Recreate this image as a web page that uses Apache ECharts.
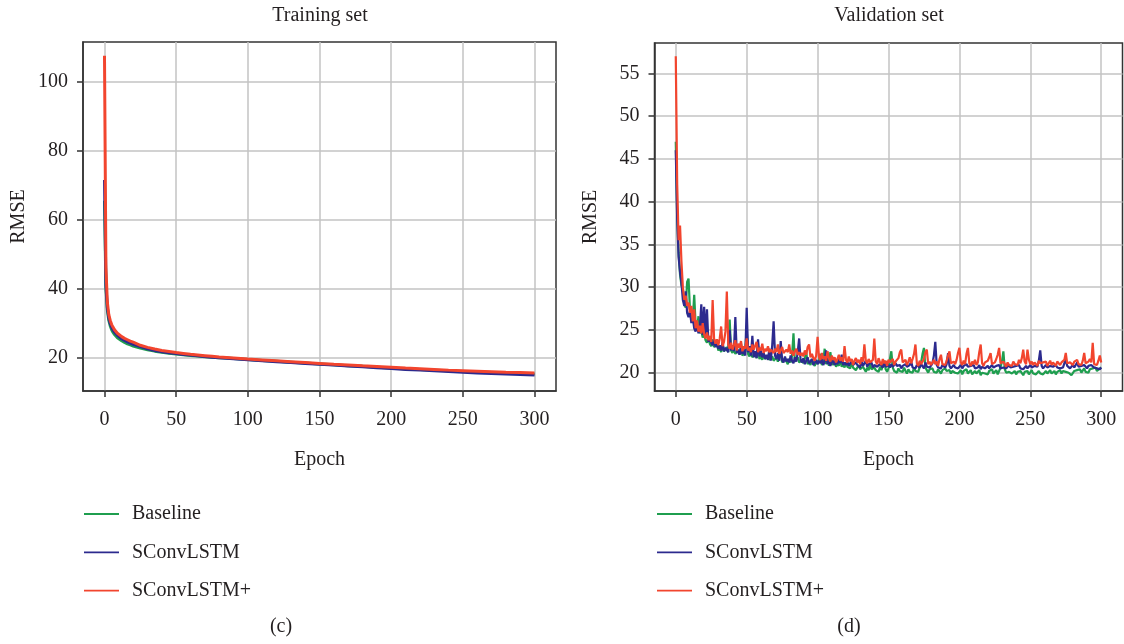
<!DOCTYPE html>
<html>
<head>
<meta charset="utf-8">
<title>RMSE per epoch</title>
<script src="https://cdn.jsdelivr.net/npm/echarts@6.0.0/dist/echarts.min.js"></script>
<style>
  html, body { margin: 0; padding: 0; background: #ffffff; }
  #chart { width: 1124px; height: 644px; }
</style>
</head>
<body>
<div id="chart"></div>
<script>
// ---- Series names ----
const seriesNames = ['Baseline', 'SConvLSTM', 'SConvLSTM+'];

// ---- Training set (RMSE per epoch, sampled) ----
const trainEpochs = [0,1,2,3,4,5,6,7,8,9,10,12,14,16,18,20,25,30,35,40,45,50,55,60,65,70,75,80,85,90,95,100,
  110,120,130,140,150,160,170,180,190,200,210,220,230,240,250,260,270,280,290,300];
const trainBaseline = [65.5,40,33.8,30.8,29.2,28.1,27.3,26.7,26.2,25.8,25.5,24.9,24.4,24.0,23.7,23.4,22.8,22.3,21.9,21.55,21.3,21.05,20.85,20.65,20.5,20.3,20.15,20.0,19.9,19.75,19.6,19.5,
  19.2,18.95,18.7,18.45,18.2,17.95,17.7,17.5,17.25,17.0,16.8,16.6,16.4,16.2,16.0,15.85,15.7,15.55,15.4,15.3];
const trainSConv = [71.5,41,34.5,31.5,29.9,28.8,28.0,27.4,26.9,26.5,26.1,25.5,25.0,24.6,24.2,23.9,23.2,22.6,22.1,21.75,21.45,21.2,20.95,20.75,20.55,20.35,20.15,20.0,19.85,19.7,19.55,19.4,
  19.1,18.85,18.6,18.35,18.1,17.85,17.6,17.35,17.1,16.85,16.6,16.4,16.2,16.0,15.8,15.6,15.45,15.3,15.15,15.0];
const trainSConvPlus = [107.5,46,36,32.5,30.8,29.6,28.8,28.1,27.6,27.1,26.7,26.1,25.6,25.2,24.8,24.5,23.6,23.0,22.5,22.1,21.8,21.5,21.25,21.0,20.8,20.6,20.4,20.2,20.05,19.9,19.75,19.6,
  19.35,19.1,18.85,18.6,18.35,18.1,17.9,17.65,17.45,17.25,17.0,16.8,16.6,16.4,16.25,16.1,15.95,15.8,15.7,15.6];

// ---- Validation set (RMSE at every epoch 0..300) ----
const valBaseline = [
  47.0,38.5,34.0,31.5,30.2,29.8,28.0,27.6,30.6,31.0,27.4,27.0,26.2,29.1,25.6,25.0,26.6,24.6,24.9,24.1,
  24.6,23.8,23.5,24.2,23.4,23.1,23.9,23.0,22.8,23.4,22.6,22.9,22.4,23.3,22.5,22.3,23.0,22.4,26.2,22.6,
  22.3,22.8,22.2,22.0,22.6,22.1,23.4,22.0,21.8,22.5,25.1,22.2,21.9,22.4,21.8,21.6,22.3,21.7,23.1,21.6,
  21.9,21.5,22.2,21.6,21.4,22.0,21.5,21.3,21.9,21.4,21.2,21.8,21.3,21.5,22.3,21.2,21.1,21.7,21.3,21.0,
  21.6,21.2,22.0,24.6,21.3,21.1,21.8,21.2,21.0,21.5,21.1,21.7,22.4,21.0,21.3,20.9,21.6,21.1,20.8,21.4,
  21.0,21.5,22.2,20.9,21.3,22.8,21.0,21.6,20.8,22.4,21.2,20.9,21.4,20.7,21.1,20.8,21.5,20.7,21.0,20.6,
  21.2,20.7,20.9,20.5,21.3,20.6,20.8,20.3,20.6,20.9,20.4,20.2,20.7,20.5,20.1,20.6,20.3,21.0,20.4,20.2,
  20.6,20.3,20.5,20.1,20.7,20.3,20.2,21.4,20.4,20.1,20.5,21.6,22.5,20.6,20.2,20.4,20.0,20.5,20.2,20.3,
  20.1,20.6,20.2,19.9,20.4,20.1,20.3,20.0,20.6,20.2,20.4,20.1,20.3,21.2,22.2,22.9,20.6,20.3,20.0,20.4,
  20.2,20.5,20.1,20.3,20.0,20.4,20.2,19.9,20.3,20.1,20.5,20.2,20.0,20.3,19.9,20.2,20.4,20.0,20.2,19.9,
  20.1,20.3,19.8,20.2,20.0,20.4,19.9,20.1,20.3,19.8,20.0,20.2,19.9,20.1,20.3,19.7,20.0,20.2,19.9,20.1,
  19.8,20.2,20.0,20.4,19.9,20.1,20.3,19.8,20.0,20.6,21.3,22.5,20.4,20.0,19.8,20.1,20.3,19.9,20.0,20.2,
  19.8,20.1,19.9,20.2,20.0,19.7,20.1,19.9,20.2,19.8,20.0,20.3,19.9,20.1,19.8,20.0,20.2,19.9,20.1,19.8,
  20.0,20.2,19.9,20.1,20.3,19.9,20.0,20.2,19.8,20.1,20.0,20.3,19.9,20.2,20.0,20.1,20.3,20.0,20.2,19.7,
  19.9,20.2,20.0,20.3,20.1,20.4,20.0,20.2,20.5,20.1,20.3,20.0,20.4,20.2,20.5,20.3,20.6,20.2,20.4,20.5,
  20.6];
const valSConv = [
  46.0,38.0,33.5,31.8,30.5,28.5,27.8,29.5,27.0,26.5,27.2,25.8,26.4,25.2,24.8,25.6,24.6,25.3,28.0,24.4,
  27.7,24.2,27.4,23.6,24.1,23.5,23.2,23.9,23.0,23.4,22.8,23.2,22.6,23.6,22.5,22.9,22.7,22.4,25.0,22.6,
  23.2,22.5,26.5,22.3,22.7,22.1,22.9,22.2,22.6,22.0,27.6,22.4,23.1,22.0,24.3,21.8,22.5,21.7,23.9,21.9,
  22.6,21.8,22.3,21.6,22.1,21.5,22.8,21.4,23.2,26.0,22.0,21.6,22.3,21.4,23.7,21.5,21.2,21.9,21.3,21.6,
  21.2,22.0,21.4,21.1,21.8,21.3,22.4,24.0,21.5,21.2,21.7,21.0,21.4,21.8,21.1,21.3,21.6,20.9,21.2,21.5,
  21.0,21.4,21.1,21.6,20.9,21.3,22.6,21.0,21.4,20.8,21.2,21.5,20.9,21.3,21.0,21.7,21.1,22.1,20.9,21.2,
  20.9,21.3,20.8,21.1,21.5,20.9,20.7,21.2,20.9,21.0,20.6,21.3,20.8,20.9,21.4,20.7,21.0,20.8,21.2,20.6,
  20.9,21.1,20.7,20.5,21.0,20.8,20.6,21.2,20.7,20.5,20.9,20.6,21.0,20.7,20.5,21.1,20.8,20.6,20.9,20.5,
  20.8,20.6,21.0,20.7,20.5,20.9,21.3,20.6,20.8,20.5,20.9,20.7,20.6,21.0,20.8,20.5,21.2,20.7,20.9,20.6,
  20.8,21.1,22.0,23.6,20.9,20.6,20.8,20.5,20.9,20.7,20.6,21.0,22.3,20.8,20.5,20.7,20.9,20.6,20.8,20.5,
  20.7,20.9,20.5,20.8,20.6,21.0,20.7,20.5,20.8,20.6,20.9,20.5,20.7,20.6,20.9,20.4,20.7,20.8,20.5,20.6,
  20.8,20.5,20.7,20.9,20.6,20.4,20.8,20.6,20.9,20.5,20.7,20.6,20.8,20.5,20.7,20.9,20.6,20.4,20.7,20.5,
  20.8,20.6,20.9,20.5,20.7,20.4,20.6,20.8,20.5,20.7,20.9,20.6,20.5,20.8,20.6,20.7,21.4,22.6,20.8,20.5,
  20.7,20.9,20.6,20.5,20.8,20.6,20.7,20.5,20.9,20.6,20.8,20.5,20.7,20.6,21.1,21.6,20.8,20.6,20.5,20.7,
  20.9,20.6,20.8,21.2,20.7,20.5,20.8,20.6,20.9,20.7,20.5,20.8,20.6,20.9,20.7,20.6,20.8,20.5,20.7,20.4,
  20.6];
const valSConvPlus = [
  57.0,42.0,35.5,37.2,33.0,30.0,28.5,29.0,27.8,28.2,27.0,27.8,26.0,27.4,25.2,26.1,24.8,25.5,24.6,25.8,
  24.5,24.0,24.7,23.8,24.3,23.6,28.5,24.0,23.4,23.9,23.2,24.0,25.4,23.1,23.6,24.8,29.5,23.3,22.8,23.5,
  22.7,23.2,23.8,22.6,23.4,22.9,23.7,22.5,23.1,22.8,24.0,22.6,22.9,22.4,23.3,22.7,22.5,23.6,22.4,22.9,
  22.6,23.4,22.3,22.8,22.5,23.1,22.4,22.7,22.9,22.3,22.8,22.4,23.3,22.2,22.6,23.0,22.3,22.1,22.7,22.4,
  23.3,22.2,22.6,22.0,22.5,22.8,22.1,22.4,22.0,22.3,21.9,22.6,22.1,23.0,23.3,21.8,22.2,21.7,21.4,22.0,
  24.2,21.8,21.5,22.3,21.6,21.9,21.4,22.5,21.7,21.3,22.0,21.5,21.8,21.2,21.6,22.1,21.4,21.8,21.3,23.1,
  21.5,21.2,21.9,21.3,21.6,20.9,21.4,21.7,21.2,21.5,21.0,21.8,21.3,23.3,21.4,21.1,21.6,21.2,21.0,21.5,
  24.0,21.3,21.0,21.7,21.2,20.9,21.6,21.1,21.4,20.8,21.5,21.2,21.0,21.6,20.9,21.3,21.1,21.7,22.4,22.7,
  21.2,21.0,21.5,20.9,21.3,21.8,21.1,21.6,22.2,23.3,21.1,20.8,21.4,21.0,21.2,21.6,22.4,22.7,21.0,21.3,
  20.9,21.2,21.5,21.0,21.3,20.8,21.6,22.1,21.0,21.2,20.9,21.4,22.0,22.5,21.1,20.9,21.3,21.0,21.5,22.3,
  22.9,21.2,20.9,21.4,21.0,22.2,22.9,21.1,20.8,21.3,21.0,21.5,20.9,21.2,22.4,23.3,21.1,20.8,21.2,21.0,
  21.4,21.8,22.3,21.0,20.8,21.2,21.6,22.1,22.9,21.1,20.9,21.3,21.0,20.7,21.2,20.9,21.1,20.8,21.3,21.0,
  21.2,20.9,21.5,21.1,21.7,22.7,21.3,21.0,22.7,21.5,21.0,21.3,20.9,21.2,21.0,20.8,21.4,21.1,20.9,21.2,
  21.0,21.3,20.8,21.1,21.4,20.9,21.2,21.0,20.8,21.3,21.1,20.9,21.2,21.0,21.5,22.3,21.1,20.9,21.2,21.0,
  20.9,21.3,21.1,21.5,21.0,21.2,20.9,21.4,22.3,21.1,20.9,21.3,21.6,21.2,23.5,21.0,21.2,20.9,21.4,22.0,
  21.2];

// ---- Tick labels ----
const epochTicks = [0, 50, 100, 150, 200, 250, 300];
const trainRmseTicks = [20, 40, 60, 80, 100];
const valRmseTicks = [20, 25, 30, 35, 40, 45, 50, 55];

// ---- Styling ----
const FONT = '"Liberation Serif", "Times New Roman", serif';
const TEXT = '#231f20';
const COLORS = ['#1f9e4f', '#2c2a8e', '#f2452e'];
const GRIDLINE = '#c3c3c3';
const FRAME = '#333333';

const pairs = (xs, ys) => xs.map((x, i) => [x, ys[i]]);
const valEpochs = valBaseline.map((_, i) => i);

function xAxisFor(gridIndex) {
  return {
    type: 'value', gridIndex, min: -15, max: 315,
    name: 'Epoch', nameLocation: 'middle', nameGap: 59,
    nameTextStyle: { fontFamily: FONT, fontSize: 20, color: TEXT },
    axisLine: { show: true, onZero: false, lineStyle: { color: FRAME, width: 1.5 } },
    axisTick: { show: true, length: 6, customValues: epochTicks, lineStyle: { color: FRAME, width: 1.5 } },
    axisLabel: { customValues: epochTicks, margin: 19, fontFamily: FONT, fontSize: 20, color: TEXT },
    splitLine: { show: true, lineStyle: { color: GRIDLINE, width: 1.5 } }
  };
}
function yAxisFor(gridIndex, min, max, ticks) {
  return {
    type: 'value', gridIndex, min, max,
    name: 'RMSE', nameLocation: 'middle', nameGap: 54, nameRotate: 90,
    nameTextStyle: { fontFamily: FONT, fontSize: 20, color: TEXT },
    axisLine: { show: true, onZero: false, lineStyle: { color: FRAME, width: 1.5 } },
    axisTick: { show: true, length: 6, customValues: ticks, lineStyle: { color: FRAME, width: 1.5 } },
    axisLabel: { customValues: ticks, margin: 15, fontFamily: FONT, fontSize: 20, color: TEXT },
    splitLine: { show: true, lineStyle: { color: GRIDLINE, width: 1.5 } }
  };
}
function lineSeries(name, idx, gridIndex, data, width) {
  return {
    type: 'line', name, xAxisIndex: gridIndex, yAxisIndex: gridIndex,
    data, showSymbol: false, symbol: 'none', animation: false,
    lineStyle: { color: COLORS[idx], width }, itemStyle: { color: COLORS[idx] },
    emphasis: { disabled: true }
  };
}
// Legend key: a short horizontal stroke in the series colour
const LEGEND_STROKE = 'path://M0 0H35V1.8H0Z';
function legendAt(left) {
  return {
    orient: 'vertical', left, top: 499,
    icon: LEGEND_STROKE,
    itemWidth: 35, itemHeight: 1.8, itemGap: 18.3,
    data: seriesNames, selectedMode: false,
    textStyle: { fontFamily: FONT, fontSize: 20, lineHeight: 20, color: TEXT, padding: [0, 0, 0, 8] }
  };
}
function caption(text, x, y) {
  return {
    type: 'text', x, y, silent: true,
    style: { text, align: 'center', verticalAlign: 'middle', font: '20px ' + FONT, fill: TEXT }
  };
}

const trainSets = [trainBaseline, trainSConv, trainSConvPlus];
const valSets = [valBaseline, valSConv, valSConvPlus];

const option = {
  backgroundColor: '#ffffff',
  animation: false,
  grid: [
    { left: 83, top: 42, width: 473, height: 349, show: true, borderColor: FRAME, borderWidth: 1.5, backgroundColor: 'transparent' },
    { left: 654.5, top: 43, width: 468, height: 348, show: true, borderColor: FRAME, borderWidth: 1.5, backgroundColor: 'transparent' }
  ],
  xAxis: [xAxisFor(0), xAxisFor(1)],
  yAxis: [yAxisFor(0, 10.35, 111.5, trainRmseTicks), yAxisFor(1, 17.86, 58.54, valRmseTicks)],
  legend: [legendAt(79), legendAt(652)],
  series: [
    ...seriesNames.map((n, i) => lineSeries(n, i, 0, pairs(trainEpochs, trainSets[i]), 3)),
    ...seriesNames.map((n, i) => lineSeries(n, i, 1, pairs(valEpochs, valSets[i]), 2.2))
  ],
  graphic: [
    caption('Training set', 320, 16),
    caption('Validation set', 889, 16),
    caption('(c)', 281, 627),
    caption('(d)', 849, 627)
  ]
};

const chart = echarts.init(document.getElementById('chart'), null, { renderer: 'canvas' });
chart.setOption(option);
</script>
</body>
</html>
